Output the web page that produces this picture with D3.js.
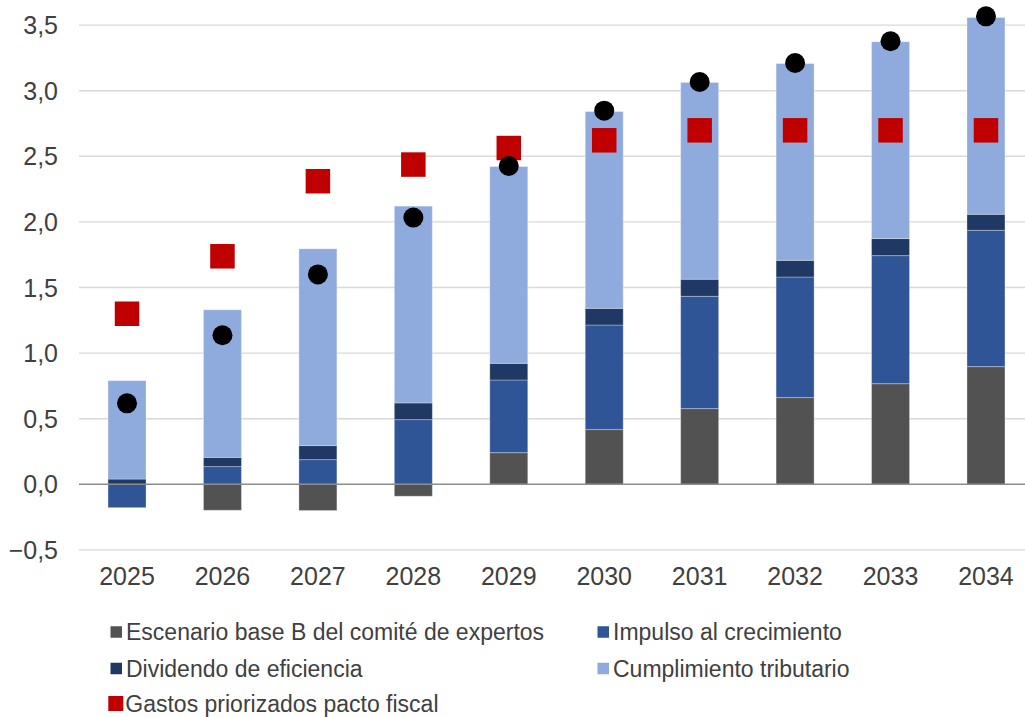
<!DOCTYPE html>
<html>
<head>
<meta charset="utf-8">
<script src="https://cdn.jsdelivr.net/npm/d3@7"></script>
<style>
  html, body { margin: 0; padding: 0; background: #fff; }
  svg { display: block; }
</style>
</head>
<body>
<svg id="chart" width="1025" height="717"></svg>
<script>
const years = ["2025","2026","2027","2028","2029","2030","2031","2032","2033","2034"];
const escenarioBase = [0, -0.198, -0.2, -0.091, 0.241, 0.417, 0.577, 0.661, 0.767, 0.897];
const impulso = [-0.178, 0.135, 0.188, 0.493, 0.554, 0.797, 0.856, 0.919, 0.976, 1.039];
const dividendo = [0.04, 0.07, 0.107, 0.127, 0.127, 0.127, 0.13, 0.127, 0.13, 0.122];
const cumplimiento = [0.75, 1.125, 1.5, 1.5, 1.5, 1.5, 1.5, 1.5, 1.5, 1.5];
const gastos = [1.30, 1.738, 2.31, 2.437, 2.563, 2.622, 2.698, 2.698, 2.698, 2.698];
const totales = [0.617, 1.136, 1.60, 2.033, 2.426, 2.848, 3.066, 3.211, 3.377, 3.567];
const yTicks = [-0.5, 0, 0.5, 1, 1.5, 2, 2.5, 3, 3.5];
const seriesNames = ["Escenario base B del comité de expertos", "Impulso al crecimiento", "Dividendo de eficiencia", "Cumplimiento tributario"];
const gastosName = "Gastos priorizados pacto fiscal";
const colors = ["#525252", "#2F5597", "#1F3864", "#8FAADC"];
const redColor = "#C00000";

const svg = d3.select("#chart");
const tickFont = "'Liberation Sans Narrow', 'Arial Narrow', 'Liberation Sans', sans-serif";
const legendFont = "'Liberation Sans', Arial, sans-serif";
const textColor = "#404040";

const x = d3.scaleBand().domain(years).range([79.4, 1033.6]).paddingInner(0.602).paddingOuter(0.3);
const y = d3.scaleLinear().domain([-0.5, 3.5]).range([549.9, 25.1]);

const rows = years.map((yr, i) => ({ year: yr, s0: escenarioBase[i], s1: impulso[i], s2: dividendo[i], s3: cumplimiento[i] }));
const stack = d3.stack().keys(["s0","s1","s2","s3"]).offset(d3.stackOffsetDiverging);
const stacked = stack(rows);

// gridlines
svg.append("g").selectAll("line").data(yTicks.filter(t => t !== 0)).join("line")
  .attr("x1", 79).attr("x2", 1025)
  .attr("y1", d => y(d)).attr("y2", d => y(d))
  .attr("stroke", "#D9D9D9").attr("stroke-width", 1.4);

// bars
svg.append("g").selectAll("g").data(stacked).join("g")
  .attr("fill", (d, i) => colors[i])
  .selectAll("rect").data(d => d).join("rect")
  .attr("x", d => x(d.data.year))
  .attr("width", x.bandwidth())
  .attr("y", d => y(Math.max(d[0], d[1])))
  .attr("height", d => Math.abs(y(d[0]) - y(d[1])))
  .attr("stroke", "#ffffff").attr("stroke-opacity", 0.3).attr("stroke-width", 1);

// zero line
svg.append("line")
  .attr("x1", 79).attr("x2", 1025)
  .attr("y1", y(0)).attr("y2", y(0))
  .attr("stroke", "#8C8C8C").attr("stroke-width", 1.4);

// y axis labels
svg.append("g").selectAll("text").data(yTicks).join("text")
  .attr("x", 58).attr("y", d => y(d) + 9)
  .attr("text-anchor", "end")
  .attr("font-family", tickFont).attr("font-size", 25).attr("fill", textColor)
  .text(d => d3.format(".1f")(d).replace(".", ",").replace("-", "\u2212"));

// x axis labels
svg.append("g").selectAll("text").data(years).join("text")
  .attr("x", d => x(d) + x.bandwidth() / 2).attr("y", 585)
  .attr("text-anchor", "middle")
  .attr("font-family", tickFont).attr("font-size", 25).attr("fill", textColor)
  .text(d => d);

// red squares
const sq = 24.5;
svg.append("g").selectAll("rect").data(gastos).join("rect")
  .attr("x", (d, i) => x(years[i]) + x.bandwidth() / 2 - sq / 2)
  .attr("y", d => y(d) - sq / 2)
  .attr("width", sq).attr("height", sq)
  .attr("fill", redColor);

// black dots
svg.append("g").selectAll("circle").data(totales).join("circle")
  .attr("cx", (d, i) => x(years[i]) + x.bandwidth() / 2)
  .attr("cy", d => y(d))
  .attr("r", 10)
  .attr("fill", "#000");

// legend
const legendItems = [
  { name: seriesNames[0], color: colors[0], lx: 110.5, ly: 640, size: 11.5 },
  { name: seriesNames[1], color: colors[1], lx: 597.5, ly: 640, size: 11.5 },
  { name: seriesNames[2], color: colors[2], lx: 110.5, ly: 676.5, size: 11.5 },
  { name: seriesNames[3], color: colors[3], lx: 597.5, ly: 676.5, size: 11.5 },
  { name: gastosName, color: redColor, lx: 108.3, ly: 711.5, size: 15 }
];
const lg = svg.append("g").selectAll("g").data(legendItems).join("g");
lg.append("rect")
  .attr("x", d => d.lx)
  .attr("y", d => d.ly - 8 - d.size / 2)
  .attr("width", d => d.size).attr("height", d => d.size)
  .attr("fill", d => d.color);
lg.append("text")
  .attr("x", d => d.lx + (d.size > 12 ? 17 : 15.5))
  .attr("y", d => d.ly)
  .attr("font-family", legendFont).attr("font-size", 23).attr("fill", textColor)
  .text(d => d.name);
</script>
</body>
</html>
